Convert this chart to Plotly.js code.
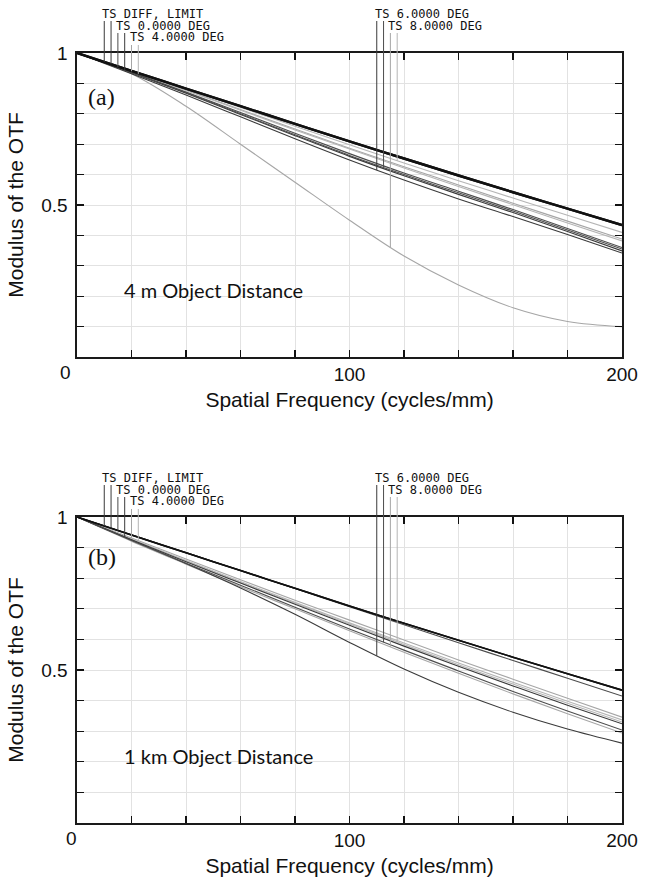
<!DOCTYPE html>
<html><head><meta charset="utf-8">
<script src="https://cdn.plot.ly/plotly-3.0.1.min.js"></script>
<style>html,body{margin:0;padding:0;background:#fff;} #chart{width:652px;height:882px;}</style>
</head><body><div id="chart"></div>
<script>
// ---------- data ----------
const freq = [0, 20, 40, 60, 80, 100, 120, 140, 160, 180, 200];   // cycles/mm
const diffLimit = [1, 0.941, 0.883, 0.825, 0.767, 0.709, 0.653, 0.597, 0.542, 0.488, 0.434];

// Panel (a): 4 m object distance
const a_0T = [1, 0.937, 0.872, 0.804, 0.736, 0.669, 0.605, 0.545, 0.485, 0.423, 0.360];
const a_0S = [1, 0.935, 0.868, 0.798, 0.728, 0.660, 0.596, 0.535, 0.475, 0.413, 0.349];
const a_4T = [1, 0.940, 0.878, 0.814, 0.750, 0.687, 0.626, 0.566, 0.506, 0.447, 0.388];
const a_4S = [1, 0.939, 0.877, 0.812, 0.747, 0.684, 0.622, 0.561, 0.501, 0.441, 0.382];
const a_6T = [1, 0.932, 0.862, 0.790, 0.718, 0.648, 0.582, 0.520, 0.462, 0.403, 0.342];
const a_6S = [1, 0.936, 0.870, 0.800, 0.731, 0.663, 0.600, 0.540, 0.480, 0.418, 0.355];
const a_8T = [1, 0.932, 0.825, 0.700, 0.575, 0.450, 0.332, 0.237, 0.162, 0.117, 0.100];
const a_8S = [1, 0.942, 0.882, 0.821, 0.759, 0.698, 0.638, 0.580, 0.523, 0.466, 0.410];

// Panel (b): 1 km object distance
const b_0T = [1, 0.942, 0.884, 0.825, 0.766, 0.707, 0.648, 0.589, 0.531, 0.473, 0.415];
const b_0S = [1, 0.926, 0.854, 0.784, 0.715, 0.646, 0.578, 0.512, 0.448, 0.385, 0.324];
const b_4T = [1, 0.931, 0.863, 0.795, 0.728, 0.663, 0.598, 0.533, 0.470, 0.408, 0.346];
const b_4S = [1, 0.928, 0.858, 0.789, 0.721, 0.654, 0.588, 0.523, 0.460, 0.398, 0.337];
const b_6T = [1, 0.925, 0.848, 0.768, 0.682, 0.590, 0.503, 0.427, 0.362, 0.307, 0.261];
const b_6S = [1, 0.923, 0.849, 0.777, 0.705, 0.634, 0.565, 0.497, 0.430, 0.366, 0.304];
const b_8T = [1, 0.921, 0.846, 0.772, 0.700, 0.628, 0.558, 0.489, 0.422, 0.357, 0.294];
const b_8S = [1, 0.927, 0.856, 0.786, 0.718, 0.650, 0.583, 0.517, 0.454, 0.391, 0.330];

// Label pointer frequencies (one per series: DIFF T,S / 0° T,S / 4° T,S / 6° T,S / 8° T,S)
const markerFreqs = [10, 12.5, 15, 17.5, 20, 22.5, 110, 112.5, 115, 117.5];
const fieldLabels = ['TS DIFF, LIMIT', 'TS 0.0000 DEG', 'TS 4.0000 DEG', 'TS 6.0000 DEG', 'TS 8.0000 DEG'];
const panelTags = ['(a)', '(b)'];
const distanceTexts = ['4 m Object Distance', '1 km Object Distance'];
const xTickVals = [0, 100, 200];
const xTickText = ['', '100', '200'];
const yTickVals = [0.5, 1];
const yTickText = ['0.5', '1'];

// ---------- styling ----------
const BLACK = '#111111', DARK = '#3a3a3a', DARK2 = '#4c4c4c', LIGHT = '#a6a6a6', LIGHT2 = '#b5b5b5';
const seriesStyle = [
  {c: BLACK, w: 2.4}, {c: BLACK, w: 2.4},
  {c: DARK2, w: 1.1}, {c: DARK, w: 1.1},
  {c: LIGHT, w: 1.1}, {c: LIGHT2, w: 1.1},
  {c: DARK, w: 1.1}, {c: DARK2, w: 1.1},
  {c: LIGHT, w: 1.1}, {c: LIGHT2, w: 1.1}
];
const pointerExt = [32, 32, 20, 20, 8, 8, 32, 32, 20, 20];

const panels = [
  {xa: 'x', ya: 'y', series: [diffLimit, diffLimit, a_0T, a_0S, a_4T, a_4S, a_6T, a_6S, a_8T, a_8S], diffW: 2.4, zeroShift: -12},
  {xa: 'x2', ya: 'y2', series: [diffLimit, diffLimit, b_0T, b_0S, b_4T, b_4S, b_6T, b_6S, b_8T, b_8S], diffW: 1.6, zeroShift: -6}
];

function interp(xs, ys, x) {
  for (let i = 0; i < xs.length - 1; i++) {
    if (x >= xs[i] && x <= xs[i + 1]) {
      const t = (x - xs[i]) / (xs[i + 1] - xs[i]);
      return ys[i] + t * (ys[i + 1] - ys[i]);
    }
  }
  return ys[ys.length - 1];
}

const traces = [], shapes = [], annotations = [];
const labelFont = {family: 'DejaVu Sans Mono, monospace', size: 12, color: '#111'};

panels.forEach((p, pi) => {
  const order = [4, 5, 8, 9, 2, 3, 6, 7, 0, 1];
  order.forEach(i => {
    const st = seriesStyle[i];
    traces.push({
      x: freq, y: p.series[i], xaxis: p.xa, yaxis: p.ya, mode: 'lines',
      line: {color: st.c, width: (i < 2 ? p.diffW : st.w), shape: 'spline', smoothing: 1},
      hoverinfo: 'skip', showlegend: false
    });
  });
  markerFreqs.forEach((f, i) => {
    const v = interp(freq, p.series[i], f);
    const col = seriesStyle[i].c === BLACK ? DARK : seriesStyle[i].c;
    shapes.push({type: 'line', xref: p.xa, yref: p.ya, x0: f, x1: f, y0: v, y1: 1,
      line: {color: col, width: 1}});
    shapes.push({type: 'line', xref: p.xa, yref: p.ya + ' domain', x0: f, x1: f,
      ysizemode: 'pixel', yanchor: 1, y0: 0, y1: pointerExt[i], line: {color: col, width: 1}});
  });
  fieldLabels.forEach((t, k) => {
    const mi = 2 * k;
    const row = k < 3 ? k : k - 3;
    annotations.push({text: t, xref: p.xa, yref: p.ya + ' domain', x: markerFreqs[mi], y: 1,
      xanchor: 'left', yanchor: 'middle', xshift: -3, yshift: 39 - 11.5 * row,
      showarrow: false, borderpad: 0, font: labelFont});
  });
  annotations.push({text: panelTags[pi], xref: p.xa, yref: p.ya + ' domain', x: 0, y: 1,
    xanchor: 'left', yanchor: 'middle', xshift: 9, yshift: pi === 0 ? -44 : -40, showarrow: false,
    font: {family: 'Liberation Serif, Times New Roman, serif', size: 24, color: '#111'}});
  annotations.push({text: distanceTexts[pi], xref: p.xa, yref: p.ya, x: 0, y: 0.22,
    xanchor: 'left', yanchor: 'middle', xshift: 45, showarrow: false,
    font: {family: 'Lato, Open Sans, sans-serif', size: 20, color: '#111'}});
  annotations.push({text: '0', xref: p.xa, yref: p.ya + ' domain', x: 0, y: 0,
    xanchor: 'center', yanchor: 'top', xshift: p.zeroShift, yshift: -3, showarrow: false,
    font: {family: 'Liberation Sans, Arial, sans-serif', size: 19, color: '#111'}});
});

const tickFont = {family: 'Liberation Sans, Arial, sans-serif', size: 19, color: '#111'};
const titleFont = {family: 'Liberation Sans, Arial, sans-serif', size: 21, color: '#111'};
const GRID = '#e2e2e2';
function xAxis(anchor) {
  return {
    anchor: anchor, domain: [0, 1], range: [0, 200], fixedrange: true,
    tickmode: 'array', tickvals: xTickVals, ticktext: xTickText, tickfont: tickFont,
    ticks: 'inside', ticklen: 7, tickwidth: 1.3, tickcolor: '#111',
    showline: true, linecolor: '#1a1a1a', linewidth: 1.6, mirror: 'allticks',
    showgrid: true, gridcolor: GRID, gridwidth: 1, zeroline: false,
    minor: {tickmode: 'linear', tick0: 0, dtick: 20, ticks: 'inside', ticklen: 7, tickwidth: 1.3, tickcolor: '#111', showgrid: true, gridcolor: GRID, gridwidth: 1},
    title: {text: 'Spatial Frequency (cycles/mm)', font: titleFont, standoff: 8},
    automargin: false
  };
}
function yAxis(anchor, domain) {
  return {
    anchor: anchor, domain: domain, range: [0, 1], fixedrange: true,
    tickmode: 'array', tickvals: yTickVals, ticktext: yTickText, tickfont: tickFont,
    ticks: 'inside', ticklen: 7, tickwidth: 1.3, tickcolor: '#111', ticklabelstandoff: 4,
    showline: true, linecolor: '#1a1a1a', linewidth: 1.6, mirror: 'allticks',
    showgrid: true, gridcolor: GRID, gridwidth: 1, zeroline: false,
    minor: {tickmode: 'linear', tick0: 0, dtick: 0.1, ticks: 'inside', ticklen: 7, tickwidth: 1.3, tickcolor: '#111', showgrid: true, gridcolor: GRID, gridwidth: 1},
    title: {text: 'Modulus of the OTF', font: titleFont, standoff: 12},
    automargin: false
  };
}

const layout = {
  width: 652, height: 882,
  margin: {l: 77, r: 30, t: 53, b: 59},
  paper_bgcolor: '#ffffff', plot_bgcolor: '#ffffff',
  showlegend: false,
  xaxis: xAxis('y'),
  yaxis: yAxis('x', [0.6052, 1]),
  xaxis2: xAxis('y2'),
  yaxis2: yAxis('x2', [0, 0.3974]),
  shapes: shapes,
  annotations: annotations
};

Plotly.newPlot('chart', traces, layout, {staticPlot: true, displayModeBar: false});
</script>
</body></html>
